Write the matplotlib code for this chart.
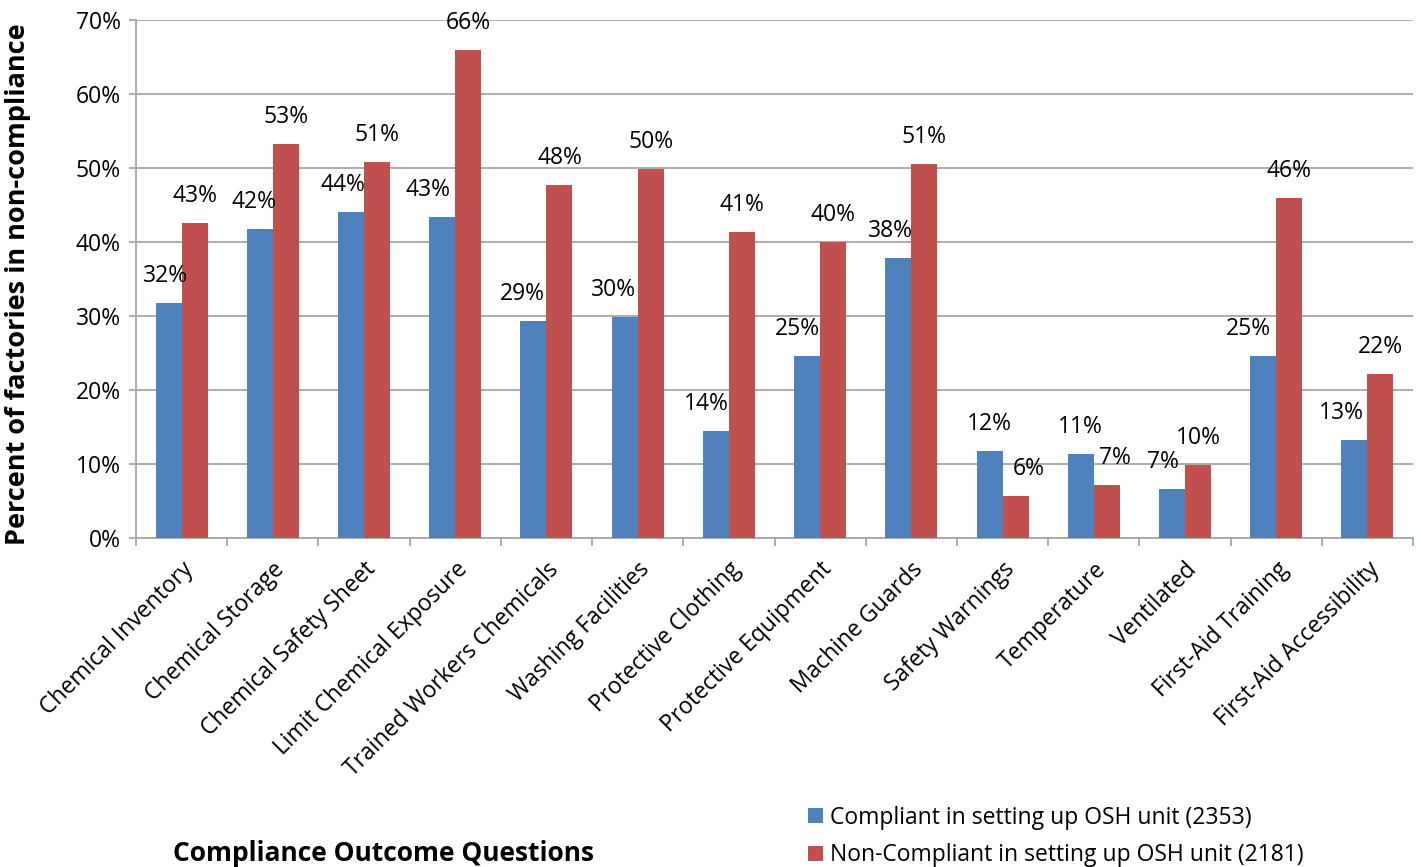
import matplotlib.pyplot as plt
import numpy as np
from matplotlib.ticker import FixedLocator, PercentFormatter

plt.rcParams['font.family'] = ['Open Sans', 'DejaVu Sans']

categories = ["Chemical Inventory", "Chemical Storage", "Chemical Safety Sheet",
              "Limit Chemical Exposure", "Trained Workers Chemicals", "Washing Facilities",
              "Protective Clothing", "Protective Equipment", "Machine Guards",
              "Safety Warnings", "Temperature", "Ventilated", "First-Aid Training",
              "First-Aid Accessibility"]

compliant = [31.8, 41.8, 44.0, 43.4, 29.3, 29.9, 14.5, 24.6, 37.8, 11.7, 11.4, 6.6, 24.6, 13.3]
non_compliant = [42.6, 53.2, 50.8, 66.0, 47.7, 49.8, 41.4, 40.0, 50.6, 5.7, 7.1, 9.8, 46.0, 22.1]

compliant_name = "Compliant in setting up OSH unit (2353)"
non_compliant_name = "Non-Compliant in setting up OSH unit (2181)"

# sideways nudges (pixels) for the value labels so they don't collide
blue_dx = [-3, -6, -8, -14, -11, -11, -10, -10, -8, 0, 0, -9, -15, -13]
red_dx = [0, 0, 0, 0, 0, 0, 0, 0, 0, 13, 8, 0, 0, 0]

blue = "#4F81BD"
red = "#C0504D"
grid_c = "#A6A6A6"

fig = plt.figure(figsize=(14.21, 8.67), dpi=100)
ax = fig.add_axes([0.0957, 0.3795, 0.8987, 0.5974])

x = np.arange(len(categories))
w = 0.285
b1 = ax.bar(x - w / 2, compliant, w, color=blue, label=compliant_name, zorder=3)
b2 = ax.bar(x + w / 2, non_compliant, w, color=red, label=non_compliant_name, zorder=3)

px = 72 / 100  # pixels -> points
for bars, vals, dxs in ((b1, compliant, blue_dx), (b2, non_compliant, red_dx)):
    for rect, v, dx in zip(bars, vals, dxs):
        ax.annotate("%d%%" % round(v), (rect.get_x() + rect.get_width() / 2, v),
                    xytext=(dx * px, 27 * px), textcoords="offset points",
                    ha="center", va="center", fontsize=16.5, color="black", zorder=4)

ax.set_xlim(-0.5, len(categories) - 0.5)
ax.set_ylim(0, 70)
ax.yaxis.set_major_locator(FixedLocator(np.arange(0, 71, 10)))
ax.yaxis.set_major_formatter(PercentFormatter(decimals=0))
ax.yaxis.grid(True, color=grid_c, linewidth=1.3, zorder=0)

ax.set_xticks(x)
ax.set_xticklabels(categories, rotation=45, ha="right", rotation_mode="anchor", fontsize=16.5)
ax.set_xticks(np.arange(-0.5, len(categories)), minor=True)
ax.tick_params(axis="x", which="major", length=0, pad=14)
ax.tick_params(axis="x", which="minor", length=6, width=1.3, color=grid_c)
ax.tick_params(axis="y", length=5, width=1.3, color=grid_c, labelsize=16.5, pad=6)

for side in ("top", "right"):
    ax.spines[side].set_visible(False)
for side in ("left", "bottom"):
    ax.spines[side].set_color(grid_c)
    ax.spines[side].set_linewidth(1.3)

ax.set_ylabel("Percent of factories in non-compliance", fontsize=19.5, fontweight="bold")
ax.yaxis.set_label_coords(-0.082, 0.49)
fig.text(0.27, 0.0, "Compliance Outcome Questions", fontsize=19, fontweight="bold",
         ha="center", va="bottom")

fig.legend(handles=[b1, b2], loc="lower left", bbox_to_anchor=(0.562, -0.011),
           frameon=False, fontsize=16.5, handlelength=0.65, handleheight=0.65,
           handletextpad=0.3, labelspacing=0.6, borderaxespad=0)

fig.savefig("out.png", dpi=100)
